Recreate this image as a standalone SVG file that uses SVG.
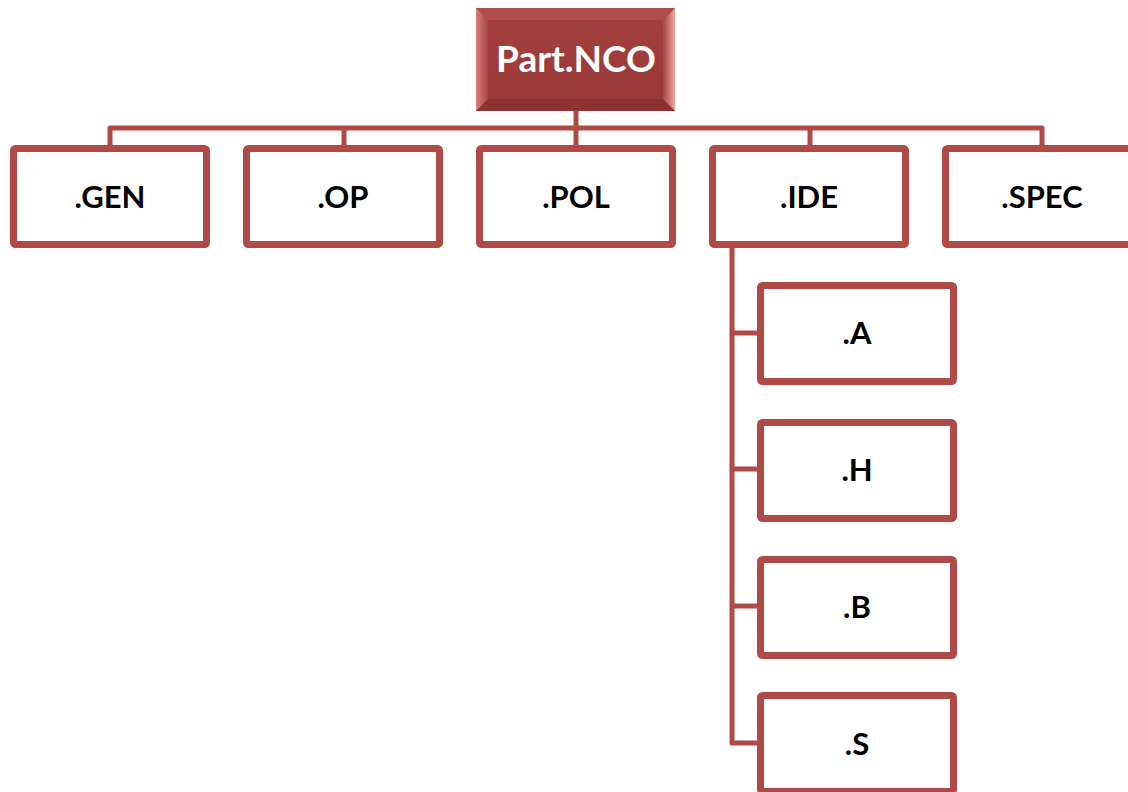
<svg xmlns="http://www.w3.org/2000/svg" width="1128" height="792" viewBox="0 0 1128 792">
<style>
.box{fill:#ffffff;stroke:#b04a47;stroke-width:7;}
.lbl{font-family:Lato,"Open Sans","Liberation Sans",sans-serif;font-weight:bold;font-size:31px;fill:#000;text-anchor:middle;}
.top{font-family:Lato,"Open Sans","Liberation Sans",sans-serif;font-weight:bold;font-size:37px;fill:#ffffff;text-anchor:middle;}
.con{fill:none;stroke:#b04a47;stroke-width:5;stroke-linejoin:round;}
.conin{fill:none;stroke:#c35c58;stroke-width:2;}
</style>
<defs>
<linearGradient id="g" x1="0" y1="0" x2="0" y2="1">
<stop offset="0" stop-color="#a3403d"/>
<stop offset="1" stop-color="#9a3937"/>
</linearGradient>
<linearGradient id="gl" x1="0" y1="0" x2="1" y2="0">
<stop offset="0" stop-color="#d9807c"/>
<stop offset="1" stop-color="#a84542"/>
</linearGradient>
<linearGradient id="gr" x1="0" y1="0" x2="1" y2="0">
<stop offset="0" stop-color="#a84542"/>
<stop offset="1" stop-color="#f0a4a0"/>
</linearGradient>
</defs>
<rect width="1128" height="792" fill="#ffffff"/>
<g id="connectors">
<path class="con" d="M576 111 V145 M110 145 V128 H1042 V145 M344 128 V145 M810 128 V145"/>
<path class="con" d="M732 247 V743 H760 M732 333 H760 M732 469 H760 M732 606 H760"/>
</g>
<g id="node-part-nco">
<rect x="476" y="8" width="199" height="103" fill="#9d3b39"/>
<polygon points="476,8 675,8 663,20 488,20" fill="#b04e4b"/>
<polygon points="476,111 675,111 663,99 488,99" fill="#8c3231"/>
<polygon points="476,8 488,20 488,99 476,111" fill="url(#gl)"/>
<polygon points="675,8 663,20 663,99 675,111" fill="url(#gr)"/>
<rect x="488" y="20" width="175" height="79" fill="url(#g)"/>
<text class="top" x="576" y="72">Part.NCO</text>
</g>
<g id="node-gen">
<rect class="box" x="13.5" y="148.5" width="193" height="96" rx="2"/>
<text class="lbl" x="110" y="208">.GEN</text>
</g>
<g id="node-op">
<rect class="box" x="246.5" y="148.5" width="193" height="96" rx="2"/>
<text class="lbl" x="343" y="208">.OP</text>
</g>
<g id="node-pol">
<rect class="box" x="479.5" y="148.5" width="193" height="96" rx="2"/>
<text class="lbl" x="576" y="208">.POL</text>
</g>
<g id="node-ide">
<rect class="box" x="712.5" y="148.5" width="193" height="96" rx="2"/>
<text class="lbl" x="809" y="208">.IDE</text>
</g>
<g id="node-spec">
<rect class="box" x="945.5" y="148.5" width="193" height="96" rx="2"/>
<text class="lbl" x="1042" y="208">.SPEC</text>
</g>
<g id="node-a">
<rect class="box" x="760.5" y="285.5" width="193" height="96" rx="2"/>
<text class="lbl" x="857" y="344">.A</text>
</g>
<g id="node-h">
<rect class="box" x="760.5" y="422.5" width="193" height="96" rx="2"/>
<text class="lbl" x="857" y="481">.H</text>
</g>
<g id="node-b">
<rect class="box" x="760.5" y="559.5" width="193" height="96" rx="2"/>
<text class="lbl" x="857" y="618">.B</text>
</g>
<g id="node-s">
<rect class="box" x="760.5" y="695.5" width="193" height="96" rx="2"/>
<text class="lbl" x="857" y="755">.S</text>
</g>
</svg>
